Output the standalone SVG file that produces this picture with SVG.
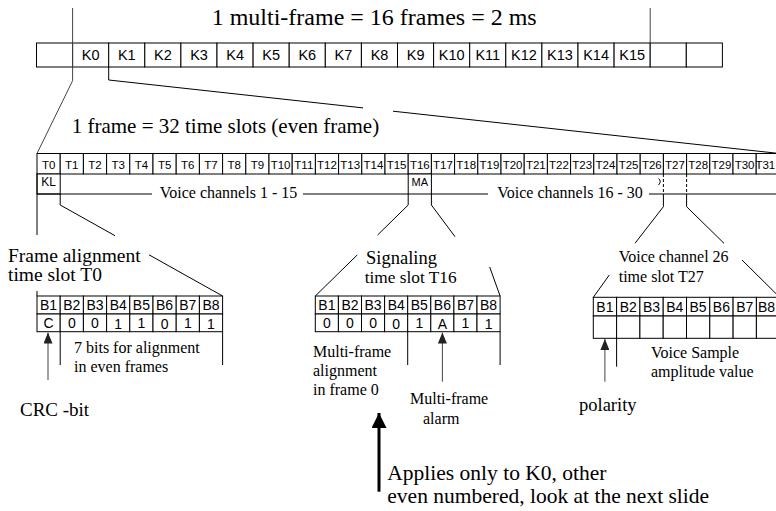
<svg xmlns="http://www.w3.org/2000/svg" width="776" height="511" viewBox="0 0 776 511">
<defs>
<style>
.c{fill:#fff;stroke:#000;stroke-width:1}
.l{stroke:#000;stroke-width:1;fill:none}
.g{stroke:#444;stroke-width:1;fill:none}
.d{stroke:#000;stroke-width:1;fill:none;stroke-dasharray:3 2}
.a{font-family:"Liberation Sans",Arial,sans-serif;fill:#000;text-anchor:middle}
.s{font-family:"Liberation Serif","Times New Roman",serif;fill:#000}
.m{text-anchor:middle}
</style>
<marker id="ah" viewBox="0 0 11 9" refX="11" refY="4.5" markerWidth="11" markerHeight="9" markerUnits="userSpaceOnUse" orient="auto"><path d="M0,0L11,4.5L0,9z" fill="#222"/></marker>
<marker id="ahb" viewBox="0 0 10 10" refX="10" refY="5" markerWidth="5" markerHeight="5" orient="auto"><path d="M0,0L10,5L0,10z" fill="#000"/></marker>
</defs>
<rect width="776" height="511" fill="#fff"/>

<g id="multiframe">
<rect class="c" x="36.5" y="43" width="36.1" height="24"/>
<rect class="c" x="72.6" y="43" width="36.1" height="24"/>
<rect class="c" x="108.7" y="43" width="36.1" height="24"/>
<rect class="c" x="144.8" y="43" width="36.1" height="24"/>
<rect class="c" x="180.9" y="43" width="36.1" height="24"/>
<rect class="c" x="217" y="43" width="36.1" height="24"/>
<rect class="c" x="253.1" y="43" width="36.1" height="24"/>
<rect class="c" x="289.2" y="43" width="36.1" height="24"/>
<rect class="c" x="325.3" y="43" width="36.1" height="24"/>
<rect class="c" x="361.4" y="43" width="36.1" height="24"/>
<rect class="c" x="397.5" y="43" width="36.1" height="24"/>
<rect class="c" x="433.6" y="43" width="36.1" height="24"/>
<rect class="c" x="469.7" y="43" width="36.1" height="24"/>
<rect class="c" x="505.8" y="43" width="36.1" height="24"/>
<rect class="c" x="541.9" y="43" width="36.1" height="24"/>
<rect class="c" x="578" y="43" width="36.1" height="24"/>
<rect class="c" x="614.1" y="43" width="36.1" height="24"/>
<rect class="c" x="650.2" y="43" width="36.1" height="24"/>
<rect class="c" x="686.3" y="43" width="36.1" height="24"/>
<g class="a" font-size="14.5">
<text x="90.7" y="60">K0</text><text x="126.8" y="60">K1</text><text x="162.9" y="60">K2</text><text x="199" y="60">K3</text>
<text x="235.1" y="60">K4</text><text x="271.2" y="60">K5</text><text x="307.3" y="60">K6</text><text x="343.4" y="60">K7</text>
<text x="379.5" y="60">K8</text><text x="415.6" y="60">K9</text><text x="451.7" y="60">K10</text><text x="487.8" y="60">K11</text>
<text x="523.9" y="60">K12</text><text x="560" y="60">K13</text><text x="596.1" y="60">K14</text><text x="632.2" y="60">K15</text>
</g>
<text class="s" x="211.7" y="25" font-size="24">1 multi-frame = 16 frames = 2 ms</text>
</g>

<g id="frame">
<rect class="c" x="37" y="153.5" width="23.2" height="20.5"/>
<rect class="c" x="60.2" y="153.5" width="23.2" height="20.5"/>
<rect class="c" x="83.4" y="153.5" width="23.2" height="20.5"/>
<rect class="c" x="106.6" y="153.5" width="23.2" height="20.5"/>
<rect class="c" x="129.8" y="153.5" width="23.2" height="20.5"/>
<rect class="c" x="153" y="153.5" width="23.2" height="20.5"/>
<rect class="c" x="176.2" y="153.5" width="23.2" height="20.5"/>
<rect class="c" x="199.4" y="153.5" width="23.2" height="20.5"/>
<rect class="c" x="222.6" y="153.5" width="23.2" height="20.5"/>
<rect class="c" x="245.8" y="153.5" width="23.2" height="20.5"/>
<rect class="c" x="269" y="153.5" width="23.2" height="20.5"/>
<rect class="c" x="292.2" y="153.5" width="23.2" height="20.5"/>
<rect class="c" x="315.4" y="153.5" width="23.2" height="20.5"/>
<rect class="c" x="338.6" y="153.5" width="23.2" height="20.5"/>
<rect class="c" x="361.8" y="153.5" width="23.2" height="20.5"/>
<rect class="c" x="385" y="153.5" width="23.2" height="20.5"/>
<rect class="c" x="408.2" y="153.5" width="23.2" height="20.5"/>
<rect class="c" x="431.4" y="153.5" width="23.2" height="20.5"/>
<rect class="c" x="454.6" y="153.5" width="23.2" height="20.5"/>
<rect class="c" x="477.8" y="153.5" width="23.2" height="20.5"/>
<rect class="c" x="501" y="153.5" width="23.2" height="20.5"/>
<rect class="c" x="524.2" y="153.5" width="23.2" height="20.5"/>
<rect class="c" x="547.4" y="153.5" width="23.2" height="20.5"/>
<rect class="c" x="570.6" y="153.5" width="23.2" height="20.5"/>
<rect class="c" x="593.8" y="153.5" width="23.2" height="20.5"/>
<rect class="c" x="617" y="153.5" width="23.2" height="20.5"/>
<rect class="c" x="640.2" y="153.5" width="23.2" height="20.5"/>
<rect class="c" x="663.4" y="153.5" width="23.2" height="20.5"/>
<rect class="c" x="686.6" y="153.5" width="23.2" height="20.5"/>
<rect class="c" x="709.8" y="153.5" width="23.2" height="20.5"/>
<rect class="c" x="733" y="153.5" width="23.2" height="20.5"/>
<rect class="c" x="756.2" y="153.5" width="23.2" height="20.5"/>
<g class="a" font-size="11.5">
<text x="48.6" y="169">T0</text><text x="71.8" y="169">T1</text><text x="95" y="169">T2</text><text x="118.2" y="169">T3</text>
<text x="141.4" y="169">T4</text><text x="164.6" y="169">T5</text><text x="187.8" y="169">T6</text><text x="211" y="169">T7</text>
<text x="234.2" y="169">T8</text><text x="257.4" y="169">T9</text><text x="280.6" y="169">T10</text><text x="303.8" y="169">T11</text>
<text x="327" y="169">T12</text><text x="350.2" y="169">T13</text><text x="373.4" y="169">T14</text><text x="396.6" y="169">T15</text>
<text x="419.8" y="169">T16</text><text x="443" y="169">T17</text><text x="466.2" y="169">T18</text><text x="489.4" y="169">T19</text>
<text x="512.6" y="169">T20</text><text x="535.8" y="169">T21</text><text x="559" y="169">T22</text><text x="582.2" y="169">T23</text>
<text x="605.4" y="169">T24</text><text x="628.6" y="169">T25</text><text x="651.8" y="169">T26</text><text x="675" y="169">T27</text>
<text x="698.2" y="169">T28</text><text x="721.4" y="169">T29</text><text x="744.6" y="169">T30</text><text x="765.3" y="169">T31</text>
</g>
<rect class="c" x="37" y="174" width="23.2" height="20"/>
<rect class="c" x="408.2" y="174" width="23.2" height="20"/>
<text class="a" x="48.6" y="186" font-size="12">KL</text>
<text class="a" x="419.8" y="186" font-size="11">MA</text>
<text class="s" x="71.7" y="133" font-size="21">1 frame = 32 time slots (even frame)</text>
<text class="s m" x="228.5" y="198" font-size="16">Voice channels 1 - 15</text>
<text class="s m" x="570" y="198" font-size="16">Voice channels 16 - 30</text>
</g>

<g id="t0-table">
<rect class="c" x="37" y="296" width="23.2" height="18"/>
<rect class="c" x="60.2" y="296" width="23.2" height="18"/>
<rect class="c" x="83.4" y="296" width="23.2" height="18"/>
<rect class="c" x="106.6" y="296" width="23.2" height="18"/>
<rect class="c" x="129.8" y="296" width="23.2" height="18"/>
<rect class="c" x="153" y="296" width="23.2" height="18"/>
<rect class="c" x="176.2" y="296" width="23.2" height="18"/>
<rect class="c" x="199.4" y="296" width="23.2" height="18"/>
<rect class="c" x="37" y="314" width="23.2" height="17.7"/>
<rect class="c" x="60.2" y="314" width="23.2" height="17.7"/>
<rect class="c" x="83.4" y="314" width="23.2" height="17.7"/>
<rect class="c" x="106.6" y="314" width="23.2" height="17.7"/>
<rect class="c" x="129.8" y="314" width="23.2" height="17.7"/>
<rect class="c" x="153" y="314" width="23.2" height="17.7"/>
<rect class="c" x="176.2" y="314" width="23.2" height="17.7"/>
<rect class="c" x="199.4" y="314" width="23.2" height="17.7"/>
<g class="a" font-size="14">
<text x="48.6" y="310">B1</text><text x="71.8" y="310">B2</text><text x="95" y="310">B3</text><text x="118.2" y="310">B4</text>
<text x="141.4" y="310">B5</text><text x="164.6" y="310">B6</text><text x="187.8" y="310">B7</text><text x="211" y="310">B8</text>
<text x="48.6" y="328">C</text><text x="71.8" y="328">0</text><text x="95" y="328">0</text><text x="118.2" y="329">1</text>
<text x="141.4" y="328">1</text><text x="164.6" y="329">0</text><text x="187.8" y="328">1</text><text x="211" y="329">1</text>
</g>
<text class="s" x="8" y="262" font-size="19.5">Frame alignment</text>
<text class="s" x="8" y="281" font-size="19.5">time slot T0</text>
<text class="s" x="74" y="353" font-size="16">7 bits for alignment</text>
<text class="s" x="74" y="372" font-size="16">in even frames</text>
<text class="s" x="20" y="416" font-size="19">CRC -bit</text>
</g>

<g id="t16-table">
<rect class="c" x="315.3" y="296" width="23.1" height="18"/>
<rect class="c" x="338.4" y="296" width="23.1" height="18"/>
<rect class="c" x="361.5" y="296" width="23.1" height="18"/>
<rect class="c" x="384.6" y="296" width="23.1" height="18"/>
<rect class="c" x="407.7" y="296" width="23.1" height="18"/>
<rect class="c" x="430.8" y="296" width="23.1" height="18"/>
<rect class="c" x="453.9" y="296" width="23.1" height="18"/>
<rect class="c" x="477" y="296" width="23.1" height="18"/>
<rect class="c" x="315.3" y="314" width="23.1" height="17.7"/>
<rect class="c" x="338.4" y="314" width="23.1" height="17.7"/>
<rect class="c" x="361.5" y="314" width="23.1" height="17.7"/>
<rect class="c" x="384.6" y="314" width="23.1" height="17.7"/>
<rect class="c" x="407.7" y="314" width="23.1" height="17.7"/>
<rect class="c" x="430.8" y="314" width="23.1" height="17.7"/>
<rect class="c" x="453.9" y="314" width="23.1" height="17.7"/>
<rect class="c" x="477" y="314" width="23.1" height="17.7"/>
<g class="a" font-size="14">
<text x="326.9" y="310">B1</text><text x="350" y="310">B2</text><text x="373.1" y="310">B3</text><text x="396.2" y="310">B4</text>
<text x="419.3" y="310">B5</text><text x="442.4" y="310">B6</text><text x="465.5" y="310">B7</text><text x="488.6" y="310">B8</text>
<text x="326.9" y="328">0</text><text x="350" y="328">0</text><text x="373.1" y="328">0</text><text x="396.2" y="329">0</text>
<text x="419.3" y="328">1</text><text x="442.4" y="329">A</text><text x="465.5" y="328">1</text><text x="488.6" y="329">1</text>
</g>
<text class="s" x="366" y="264" font-size="18.5">Signaling</text>
<text class="s" x="364.7" y="283" font-size="17.3">time slot T16</text>
<text class="s" x="313" y="357" font-size="16">Multi-frame</text>
<text class="s" x="313" y="376" font-size="16">alignment</text>
<text class="s" x="313" y="395" font-size="16">in frame 0</text>
<text class="s" x="410" y="404" font-size="16">Multi-frame</text>
<text class="s" x="423" y="424" font-size="16">alarm</text>
</g>

<g id="t27-table">
<rect class="c" x="593.3" y="297.3" width="23.3" height="18.7"/>
<rect class="c" x="616.6" y="297.3" width="23.3" height="18.7"/>
<rect class="c" x="639.9" y="297.3" width="23.3" height="18.7"/>
<rect class="c" x="663.2" y="297.3" width="23.3" height="18.7"/>
<rect class="c" x="686.5" y="297.3" width="23.3" height="18.7"/>
<rect class="c" x="709.8" y="297.3" width="23.3" height="18.7"/>
<rect class="c" x="733.1" y="297.3" width="23.3" height="18.7"/>
<rect class="c" x="756.4" y="297.3" width="23.3" height="18.7"/>
<rect class="c" x="593.3" y="316" width="23.3" height="22.3"/>
<rect class="c" x="616.6" y="316" width="23.3" height="22.3"/>
<rect class="c" x="639.9" y="316" width="23.3" height="22.3"/>
<rect class="c" x="663.2" y="316" width="23.3" height="22.3"/>
<rect class="c" x="686.5" y="316" width="23.3" height="22.3"/>
<rect class="c" x="709.8" y="316" width="23.3" height="22.3"/>
<rect class="c" x="733.1" y="316" width="23.3" height="22.3"/>
<rect class="c" x="756.4" y="316" width="23.3" height="22.3"/>
<g class="a" font-size="14">
<text x="604.9" y="312">B1</text><text x="628.2" y="312">B2</text><text x="651.5" y="312">B3</text><text x="674.8" y="312">B4</text>
<text x="698.1" y="312">B5</text><text x="721.4" y="312">B6</text><text x="744.7" y="312">B7</text><text x="766.5" y="312">B8</text>
</g>
<text class="s" x="618.7" y="262" font-size="16">Voice channel 26</text>
<text class="s" x="618.7" y="282" font-size="16">time slot T27</text>
<text class="s" x="651" y="358" font-size="16">Voice Sample</text>
<text class="s" x="651" y="377" font-size="16">amplitude value</text>
<text class="s" x="579" y="411" font-size="18.5">polarity</text>
</g>

<g id="note">
<text class="s" x="387.3" y="480" font-size="21.5">Applies only to K0, other</text>
<text class="s" x="387.3" y="503" font-size="21.5">even numbered, look at the next slide</text>
</g>

<g id="connectors">
<path class="g" d="M72.6,8V80.7L37,153.5"/>
<path class="g" d="M650.2,8V43"/>
<path class="l" d="M108.7,67V80L363,107.9M393,111.2L779.4,153.5"/>
<path class="l" d="M37,194H152M303,194H408.2M431.4,194H488M649,194H776"/>
<path class="l" d="M37,174V235M37,291V296"/>
<path class="l" d="M60.2,194V205L115,235.7M149,254.8L222.6,296"/>
<path class="l" d="M408.2,194V205L377.6,235M357.2,255L315.3,296"/>
<path class="l" d="M431.4,194V205L455,236.7M489.7,267L500.1,296"/>
<path class="d" d="M663.4,174V194M686.6,174V194"/>
<path class="l" d="M663.4,194V206.7L635,243.3M609.3,275L593.3,297.3"/>
<path class="l" d="M686.6,194V206.7L724,243.3M742,260L779.7,297.3"/>
<path class="l" d="M658.5,178.5Q662,181 658.5,185" stroke-width="0.9"/>
<path class="l" d="M60.2,331.7V365M222.6,331.7V365"/>
<path class="l" d="M407.7,331.7V365M500.1,331.7V365"/>
<path class="l" d="M616.6,338.3V366.7"/>
<path class="g" d="M48,380V332.5" stroke-width="1.3" marker-end="url(#ah)"/>
<path class="g" d="M442.4,381.7V332.5" stroke-width="1.3" marker-end="url(#ah)"/>
<path class="g" d="M604.9,381.7V339" stroke-width="1.3" marker-end="url(#ah)"/>
<path d="M379,491.7V413" stroke="#000" stroke-width="3" fill="none" marker-end="url(#ahb)"/>
</g>
</svg>
